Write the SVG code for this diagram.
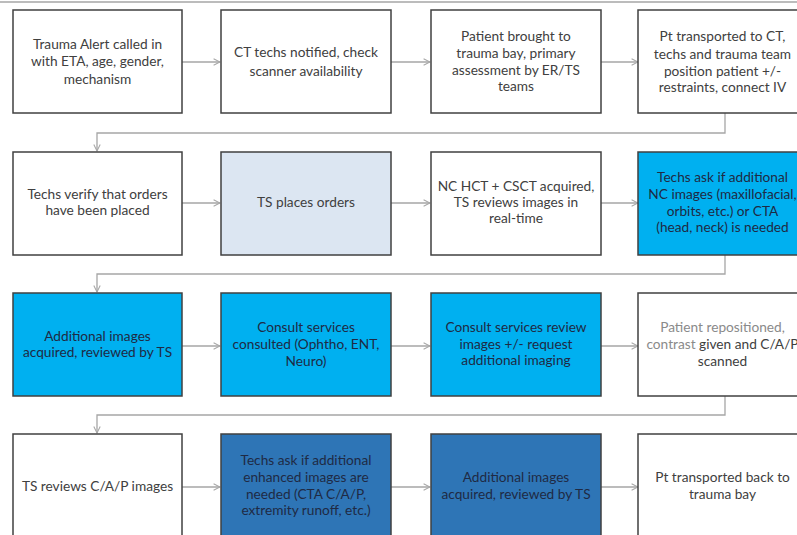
<svg xmlns="http://www.w3.org/2000/svg" width="797" height="535" viewBox="0 0 797 535">
<defs>
<style>
.box{stroke:#404040;stroke-width:1.5}
.w{fill:#ffffff}
.lb{fill:#dce6f2}
.cy{fill:#00b0f0}
.db{fill:#2e75b6}
text{font-family:Lato,"Liberation Sans",sans-serif;font-size:13.7px;text-anchor:middle;fill:#404040}
.dk{fill:#1f2a44}
.lt{fill:#8a8a8a}
.con{fill:none;stroke:#a6a6a6;stroke-width:1.3}
</style>
<marker id="ah" viewBox="0 0 10 10" refX="9" refY="5" markerWidth="8" markerHeight="8" markerUnits="userSpaceOnUse" orient="auto">
<path d="M1,1 L9,5 L1,9" fill="none" stroke="#a6a6a6" stroke-width="1.3"/>
</marker>
</defs>
<rect width="797" height="535" fill="#ffffff"/>
<line x1="0" y1="2" x2="797" y2="2" stroke="#a6a6a6" stroke-width="1.5"/>
<g id="connectors">
<path class="con" d="M182,62 H220" marker-end="url(#ah)"/>
<path class="con" d="M391,62 H430" marker-end="url(#ah)"/>
<path class="con" d="M601,62 H638" marker-end="url(#ah)"/>
<path class="con" d="M725,113 V133 H97 V151" marker-end="url(#ah)"/>
<path class="con" d="M182,203 H220" marker-end="url(#ah)"/>
<path class="con" d="M391,203 H430" marker-end="url(#ah)"/>
<path class="con" d="M601,203 H638" marker-end="url(#ah)"/>
<path class="con" d="M725,255 V274 H97 V292" marker-end="url(#ah)"/>
<path class="con" d="M182,346 H220" marker-end="url(#ah)"/>
<path class="con" d="M391,346 H430" marker-end="url(#ah)"/>
<path class="con" d="M601,346 H638" marker-end="url(#ah)"/>
<path class="con" d="M725,396 V415 H97 V433" marker-end="url(#ah)"/>
<path class="con" d="M182,487 H220" marker-end="url(#ah)"/>
<path class="con" d="M391,487 H430" marker-end="url(#ah)"/>
<path class="con" d="M601,487 H638" marker-end="url(#ah)"/>
</g>
<g id="n1"><rect class="box w" x="13" y="10" width="169" height="103"/>
<text x="97.5" y="48.5">Trauma Alert called in</text><text x="97.5" y="66">with ETA, age, gender,</text><text x="97.5" y="83.5">mechanism</text></g>
<g id="n2"><rect class="box w" x="221" y="10" width="170" height="103"/>
<text x="306" y="57">CT techs notified, check</text><text x="306" y="76">scanner availability</text></g>
<g id="n3"><rect class="box w" x="431" y="10" width="170" height="103"/>
<text x="516" y="41">Patient brought to</text><text x="516" y="58">trauma bay, primary</text><text x="516" y="74.5">assessment by ER/TS</text><text x="516" y="91">teams</text></g>
<g id="n4"><rect class="box w" x="638" y="10" width="170" height="103"/>
<text x="722.5" y="41">Pt transported to CT,</text><text x="722.5" y="59">techs and trauma team</text><text x="722.5" y="76">position patient +/-</text><text x="722.5" y="92">restraints, connect IV</text></g>
<g id="n5"><rect class="box w" x="13" y="152" width="169" height="103"/>
<text x="97.5" y="199">Techs verify that orders</text><text x="97.5" y="215">have been placed</text></g>
<g id="n6"><rect class="box lb" x="221" y="152" width="170" height="103"/>
<text x="306" y="207">TS places orders</text></g>
<g id="n7"><rect class="box w" x="431" y="152" width="170" height="103"/>
<text x="516" y="191">NC HCT + CSCT acquired,</text><text x="516" y="207">TS reviews images in</text><text x="516" y="223">real-time</text></g>
<g id="n8"><rect class="box cy" x="638" y="152" width="170" height="103"/>
<text class="dk" x="722.5" y="182">Techs ask if additional</text><text class="dk" x="722.5" y="199">NC images (maxillofacial,</text><text class="dk" x="722.5" y="216">orbits, etc.) or CTA</text><text class="dk" x="722.5" y="232">(head, neck) is needed</text></g>
<g id="n9"><rect class="box cy" x="13" y="293" width="169" height="103"/>
<text class="dk" x="97.5" y="341">Additional images</text><text class="dk" x="97.5" y="357">acquired, reviewed by TS</text></g>
<g id="n10"><rect class="box cy" x="221" y="293" width="170" height="103"/>
<text class="dk" x="306" y="332">Consult services</text><text class="dk" x="306" y="349">consulted (Ophtho, ENT,</text><text class="dk" x="306" y="366">Neuro)</text></g>
<g id="n11"><rect class="box cy" x="431" y="293" width="170" height="103"/>
<text class="dk" x="516" y="332">Consult services review</text><text class="dk" x="516" y="349">images +/- request</text><text class="dk" x="516" y="365">additional imaging</text></g>
<g id="n12"><rect class="box w" x="638" y="293" width="170" height="103"/>
<text class="lt" x="722.5" y="332">Patient repositioned,</text><text x="722.5" y="349"><tspan class="lt">contrast</tspan> given and C/A/P</text><text x="722.5" y="366">scanned</text></g>
<g id="n13"><rect class="box w" x="13" y="434" width="169" height="110"/>
<text x="97.5" y="491">TS reviews C/A/P images</text></g>
<g id="n14"><rect class="box db" x="221" y="434" width="170" height="110"/>
<text class="dk" x="306" y="465">Techs ask if additional</text><text class="dk" x="306" y="482">enhanced images are</text><text class="dk" x="306" y="499">needed (CTA C/A/P,</text><text class="dk" x="306" y="515">extremity runoff, etc.)</text></g>
<g id="n15"><rect class="box db" x="431" y="434" width="170" height="110"/>
<text class="dk" x="516" y="482">Additional images</text><text class="dk" x="516" y="499">acquired, reviewed by TS</text></g>
<g id="n16"><rect class="box w" x="638" y="434" width="170" height="110"/>
<text x="722.5" y="482">Pt transported back to</text><text x="722.5" y="499">trauma bay</text></g>
</svg>
